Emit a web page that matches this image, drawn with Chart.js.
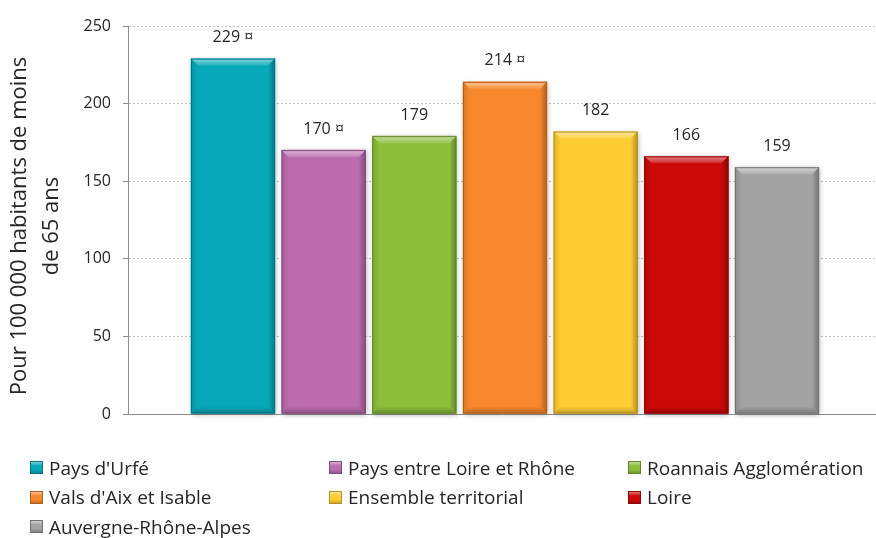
<!DOCTYPE html>
<html lang="fr">
<head>
<meta charset="utf-8">
<title>Pour 100 000 habitants de moins de 65 ans</title>
<script src="https://cdn.jsdelivr.net/npm/chart.js@4"></script>
<style>
  html, body { margin: 0; padding: 0; background: #fff; }
  #wrap { position: relative; width: 876px; height: 538px; overflow: hidden; }
  #chart { position: absolute; left: 0; top: 0; }
  #legend {
    position: absolute; left: 30px; top: 453px;
    display: grid; grid-template-columns: 299px 299px 240px; grid-auto-rows: 29.5px;
    font-family: 'Open Sans', sans-serif; font-size: 19px; color: #262626;
  }
  .item { display: flex; align-items: center; white-space: nowrap; }
  .swatch { width: 13px; height: 13px; margin-right: 6px; box-sizing: border-box; }
</style>
</head>
<body>
<div id="wrap">
  <canvas id="chart" width="876" height="538"></canvas>
  <div id="legend"></div>
</div>
<script>
// data
const territories = [
  "Pays d'Urfé",
  'Pays entre Loire et Rhône',
  'Roannais Agglomération',
  "Vals d'Aix et Isable",
  'Ensemble territorial',
  'Loire',
  'Auvergne-Rhône-Alpes'
];
const rates = [229, 170, 179, 214, 182, 166, 159];
// ¤ marker shown next to the value
const significant = [true, true, false, true, false, false, false];
const barColors = ['#07a8ba', '#ba6caf', '#8cbe3c', '#f7882b', '#fecd33', '#cc0808', '#a3a3a3'];
const yTicks = [0, 50, 100, 150, 200, 250];
const yTitle = ['Pour 100 000 habitants de moins', 'de 65 ans'];

const TEXT = '#262626';
const AXIS = '#8c8c8c';

// mix a hex colour with white (amt > 0) or black (amt < 0)
function shade(hex, amt) {
  const n = parseInt(hex.slice(1), 16);
  let r = (n >> 16) & 255, g = (n >> 8) & 255, b = n & 255;
  const t = amt < 0 ? 0 : 255, p = Math.abs(amt);
  r = Math.round(r + (t - r) * p);
  g = Math.round(g + (t - g) * p);
  b = Math.round(b + (t - b) * p);
  return `rgb(${r},${g},${b})`;
}

function poly(ctx, pts, fill) {
  ctx.beginPath();
  ctx.moveTo(pts[0][0], pts[0][1]);
  for (let i = 1; i < pts.length; i++) ctx.lineTo(pts[i][0], pts[i][1]);
  ctx.closePath();
  ctx.fillStyle = fill;
  ctx.fill();
}

// soft shadow under bars + bevelled edges and value labels on top
const bevelPlugin = {
  id: 'bevel',
  beforeDatasetsDraw(chart) {
    const ctx = chart.ctx;
    chart.getDatasetMeta(0).data.forEach(bar => {
      const {x, y, base, width} = bar.getProps(['x', 'y', 'base', 'width'], true);
      ctx.save();
      ctx.shadowColor = 'rgba(0,0,0,0.3)';
      ctx.shadowBlur = 5;
      ctx.shadowOffsetX = 1;
      ctx.shadowOffsetY = 1;
      ctx.fillStyle = '#fff';
      ctx.fillRect(x - width / 2, y, width, base - y);
      ctx.restore();
    });
  },
  afterDatasetsDraw(chart) {
    const ctx = chart.ctx;
    chart.getDatasetMeta(0).data.forEach((bar, i) => {
      const {x, y, base, width} = bar.getProps(['x', 'y', 'base', 'width'], true);
      const c = barColors[i];
      const L = x - width / 2, R = x + width / 2, T = y, B = base, b = 7;
      ctx.save();
      let g = ctx.createLinearGradient(0, T, 0, T + b);
      g.addColorStop(0, shade(c, 0.5));
      g.addColorStop(1, shade(c, 0.12));
      poly(ctx, [[L, T], [R, T], [R - b, T + b], [L + b, T + b]], g);

      g = ctx.createLinearGradient(L, 0, L + b, 0);
      g.addColorStop(0, shade(c, -0.12));
      g.addColorStop(1, c);
      poly(ctx, [[L, T], [L + b, T + b], [L + b, B - b], [L, B]], g);

      g = ctx.createLinearGradient(R, 0, R - b, 0);
      g.addColorStop(0, shade(c, -0.3));
      g.addColorStop(1, c);
      poly(ctx, [[R, T], [R, B], [R - b, B - b], [R - b, T + b]], g);

      g = ctx.createLinearGradient(0, B, 0, B - b);
      g.addColorStop(0, shade(c, -0.25));
      g.addColorStop(1, c);
      poly(ctx, [[L, B], [L + b, B - b], [R - b, B - b], [R, B]], g);

      ctx.strokeStyle = shade(c, -0.3);
      ctx.lineWidth = 1;
      ctx.strokeRect(L + 0.5, T + 0.5, width - 1, B - T - 1);

      // value label
      ctx.fillStyle = TEXT;
      ctx.font = "16px 'Open Sans', sans-serif";
      ctx.textAlign = 'center';
      ctx.textBaseline = 'middle';
      ctx.fillText(rates[i] + (significant[i] ? ' ¤' : ''), x, T - 21);
      ctx.restore();
    });
  },
  // rotated y axis title, two lines
  afterDraw(chart) {
    const ctx = chart.ctx;
    ctx.save();
    ctx.translate(0, 226);
    ctx.rotate(-Math.PI / 2);
    ctx.fillStyle = TEXT;
    ctx.font = "22px 'Open Sans', sans-serif";
    ctx.textAlign = 'center';
    ctx.textBaseline = 'middle';
    yTitle.forEach((line, i) => ctx.fillText(line, 0, 20 + i * 32));
    ctx.restore();
  }
};

function buildLegend() {
  const box = document.getElementById('legend');
  territories.forEach((name, i) => {
    const c = barColors[i];
    const item = document.createElement('div');
    item.className = 'item';
    const sw = document.createElement('span');
    sw.className = 'swatch';
    sw.style.background = `linear-gradient(to bottom, ${shade(c, 0.45)} 0%, ${c} 35%, ${c} 70%, ${shade(c, -0.2)} 100%)`;
    sw.style.border = `1px solid ${shade(c, -0.3)}`;
    const txt = document.createElement('span');
    txt.textContent = name;
    item.appendChild(sw);
    item.appendChild(txt);
    box.appendChild(item);
  });
}

Chart.defaults.font.family = "'Open Sans', sans-serif";
Chart.defaults.color = TEXT;

new Chart(document.getElementById('chart'), {
  type: 'bar',
  data: {
    datasets: [{
      data: rates.map((v, i) => ({x: i, y: v})),
      backgroundColor: barColors,
      borderWidth: 0,
      barThickness: 84
    }]
  },
  options: {
    responsive: false,
    animation: false,
    layout: { padding: { top: 26, bottom: 116, left: 0, right: 0 } },
    plugins: { legend: { display: false }, tooltip: { enabled: false } },
    scales: {
      x: {
        type: 'linear',
        min: -1.158,
        max: 7.092,
        bounds: 'data',
        offset: false,
        ticks: { display: false, stepSize: 1, includeBounds: false },
        grid: { display: false },
        border: { display: true, color: AXIS, width: 1 }
      },
      y: {
        min: 0,
        max: 250,
        afterBuildTicks: s => { s.ticks = yTicks.map(v => ({value: v})); },
        afterFit: s => { s.width = 128; },
        ticks: { font: { size: 16 }, color: TEXT, padding: 12 },
        grid: {
          color: c => (c.tick && c.tick.value === 0 ? 'rgba(0,0,0,0)' : '#c3c3c3'),
          tickColor: AXIS,
          tickLength: 5,
          tickBorderDash: []
        },
        border: { color: AXIS, width: 1, dash: [2, 2] },
        title: { display: false }
      }
    }
  },
  plugins: [bevelPlugin]
});

buildLegend();
</script>
</body>
</html>
